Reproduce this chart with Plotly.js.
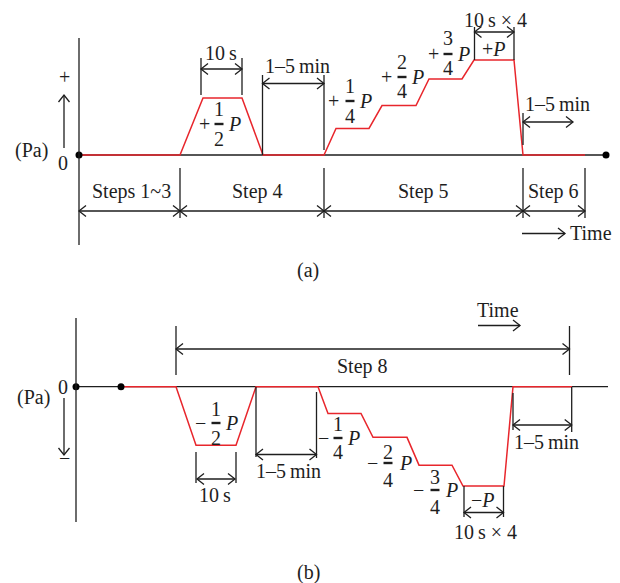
<!DOCTYPE html>
<html>
<head>
<meta charset="utf-8">
<script src="https://cdn.plot.ly/plotly-3.0.1.min.js"></script>
<style>html,body{margin:0;padding:0;background:#fff;}#chart{width:620px;height:583px;}</style>
</head>
<body>
<div id="chart"></div>
<script>
// ---- Data (schematic: time in arbitrary units, pressure as fraction of P) ----
const topTime      = [0, 101, 124, 163, 184, 245, 257, 290, 303, 337, 350, 383, 395, 435, 444, 506];
const topPressure  = [0, 0, 0.6, 0.6, 0, 0, 0.28, 0.28, 0.52, 0.52, 0.8, 0.8, 1, 1, 0, 0];
const topBaseTime  = [0, 527];
const topBaseP     = [0, 0];
const topDotTime   = [0, 527];

const botTime      = [45, 100, 120, 160, 180, 242, 252, 285, 297, 331, 343, 376, 387, 428, 437, 496];
const botPressure  = [0, 0, -0.59, -0.59, 0, 0, -0.27, -0.27, -0.51, -0.51, -0.79, -0.79, -1, -1, 0, 0];
const botBaseTime  = [0, 532];
const botBaseP     = [0, 0];
const botDotTime   = [0, 45];

const topSteps = ["Steps 1~3", "Step 4", "Step 5", "Step 6"];
const botSteps = ["Step 8"];

// ---- Layout helpers (pixel -> paper) ----
const W = 620, H = 583;
const FONT = "Liberation Serif, Times New Roman, DejaVu Serif, serif";
const FS = 20;
const INK = "#1e1e1e";
const RED = "#e8262c";
const px = x => x / W;
const py = y => 1 - y / H;
const shapes = [];
const annotations = [];

function seg(x0, y0, x1, y1, w) {
  shapes.push({type: "line", xref: "paper", yref: "paper",
    x0: px(x0), y0: py(y0), x1: px(x1), y1: py(y1),
    line: {color: INK, width: w || 1.3}});
}
function poly(pts) {
  shapes.push({type: "path", xref: "paper", yref: "paper",
    path: "M" + pts.map(p => px(p[0]) + "," + py(p[1])).join(" L"),
    line: {color: INK, width: 1.3}});
}
const AL = 7, AW = 5.5;
function head(x, y, dir) {
  if (dir === "r") poly([[x - AL, y - AW], [x, y], [x - AL, y + AW]]);
  if (dir === "l") poly([[x + AL, y - AW], [x, y], [x + AL, y + AW]]);
  if (dir === "u") poly([[x - AW, y + AL], [x, y], [x + AW, y + AL]]);
  if (dir === "d") poly([[x - AW, y - AL], [x, y], [x + AW, y - AL]]);
}
function harrow(xa, xb, y, both) {
  seg(xa, y, xb, y);
  head(xb, y, "r");
  if (both) head(xa, y, "l");
}
function txt(x, y, s, size) {
  annotations.push({xref: "paper", yref: "paper", x: px(x), y: py(y),
    xanchor: "center", yanchor: "middle", showarrow: false, text: s,
    font: {family: FONT, size: size || FS, color: INK}});
}
function frac(sign, xs, xf, xp, ymid, num, den, yn, yd) {
  txt(xs, ymid, sign);
  txt(xf, yn, num);
  txt(xf, yd, den);
  seg(xf - 4.5, ymid, xf + 4.5, ymid, 2.4);
  txt(xp, ymid, "<i>P</i>");
}

// ================= (a) =================
seg(79, 38, 79, 245);
// guides
seg(180, 168, 180, 218);
seg(201, 58, 201, 95);  seg(242, 58, 242, 95);
seg(262.5, 75, 262.5, 155);
seg(324, 75, 324, 150); seg(324, 168, 324, 218);
seg(474.5, 27, 474.5, 60); seg(514, 27, 514, 60);
seg(523, 113, 523, 145); seg(523, 168, 523, 218);
seg(585, 168, 585, 218);
// arrows
harrow(201, 242, 69, true);
harrow(262.5, 324, 83.5, true);
harrow(474.5, 514, 32, true);
harrow(523, 573, 122, true);
harrow(79, 180, 211, true);
harrow(180, 324, 211, true);
harrow(324, 523, 211, true);
harrow(523, 585, 211, true);
harrow(522, 565, 233.5, false);
seg(64, 148, 64, 95); head(64, 95, "u");
// texts
txt(221, 53, "10\u2009s");
txt(297, 66, "1\u20135\u2009min");
txt(495, 20, "10\u2009s \u00d7 4");
txt(494, 49, "+<i>P</i>");
txt(557, 104, "1\u20135\u2009min");
txt(131, 192, topSteps[0]);
txt(257, 192, topSteps[1]);
txt(423, 192, topSteps[2]);
txt(553, 192, topSteps[3]);
txt(591, 233, "Time");
txt(31, 150, "(Pa)");
txt(63, 163, "0");
txt(64, 77, "+");
txt(308, 270, "(a)");
frac("+", 204, 219, 234, 124, "1", "2", 109, 139);
frac("+", 333, 350, 365, 101, "1", "4", 86, 116);
frac("+", 386, 402, 417, 77, "2", "4", 62, 91);
frac("+", 433, 448, 463, 54, "3", "4", 38, 68);

// ================= (b) =================
seg(76, 318, 76, 522);
seg(176, 326, 176, 375); seg(569.5, 326, 569.5, 375);
seg(196, 452, 196, 483); seg(236, 452, 236, 483);
seg(256, 387, 256, 457); seg(316.5, 392, 316.5, 458);
seg(464, 486, 464, 517); seg(503.5, 486, 503.5, 517);
seg(513, 393, 513, 430); seg(571.7, 387, 571.7, 432);
harrow(176, 569.5, 349, true);
harrow(197, 235, 479, true);
harrow(256, 316.5, 454.5, true);
harrow(464, 503.5, 512.5, true);
harrow(513, 571.7, 425, true);
harrow(478, 520, 325.5, false);
seg(64, 398, 64, 455); head(64, 455, "d");
txt(498, 310, "Time");
txt(362, 366, botSteps[0]);
txt(215, 495, "10\u2009s");
txt(288, 471, "1\u20135\u2009min");
txt(483, 500, "\u2212<i>P</i>");
txt(485, 532, "10\u2009s \u00d7 4");
txt(546, 442, "1\u20135\u2009min");
txt(33, 397, "(Pa)");
txt(63, 387, "0");
txt(64, 458, "\u2212");
txt(308, 572, "(b)");
frac("\u2212", 200, 216, 231, 423, "1", "2", 409, 438);
frac("\u2212", 323, 338, 353, 438, "1", "4", 424, 452);
frac("\u2212", 372, 388, 405, 463, "2", "4", 452, 480);
frac("\u2212", 418, 435, 451, 490, "3", "4", 477, 507);

// ---- Traces ----
const traces = [
  {x: topBaseTime, y: topBaseP, xaxis: "x", yaxis: "y", mode: "lines",
   line: {color: INK, width: 1.3}, hoverinfo: "skip"},
  {x: topTime, y: topPressure, xaxis: "x", yaxis: "y", mode: "lines",
   line: {color: RED, width: 1.5}, hoverinfo: "skip"},
  {x: topDotTime, y: [0, 0], xaxis: "x", yaxis: "y", mode: "markers",
   marker: {color: "#000", size: 7}, hoverinfo: "skip"},
  {x: botBaseTime, y: botBaseP, xaxis: "x2", yaxis: "y2", mode: "lines",
   line: {color: INK, width: 1.3}, hoverinfo: "skip"},
  {x: botTime, y: botPressure, xaxis: "x2", yaxis: "y2", mode: "lines",
   line: {color: RED, width: 1.5}, hoverinfo: "skip"},
  {x: botDotTime, y: [0, 0], xaxis: "x2", yaxis: "y2", mode: "markers",
   marker: {color: "#000", size: 7}, hoverinfo: "skip"}
];

const hidden = {visible: false, fixedrange: true, domain: [0, 1]};
const layout = {
  width: W, height: H,
  margin: {l: 0, r: 0, t: 0, b: 0, pad: 0},
  paper_bgcolor: "#fff", plot_bgcolor: "rgba(0,0,0,0)",
  showlegend: false,
  font: {family: FONT, size: FS, color: INK},
  xaxis:  Object.assign({}, hidden, {range: [-79, 541], anchor: "y"}),
  yaxis:  Object.assign({}, hidden, {range: [-(H - 155) / 95, 155 / 95], anchor: "x"}),
  xaxis2: Object.assign({}, hidden, {range: [-76, 544], anchor: "y2"}),
  yaxis2: Object.assign({}, hidden, {range: [-(H - 386.7) / 99.3, 386.7 / 99.3], anchor: "x2"}),
  shapes: shapes,
  annotations: annotations
};
Plotly.newPlot("chart", traces, layout, {staticPlot: true, displayModeBar: false});
</script>
</body>
</html>
